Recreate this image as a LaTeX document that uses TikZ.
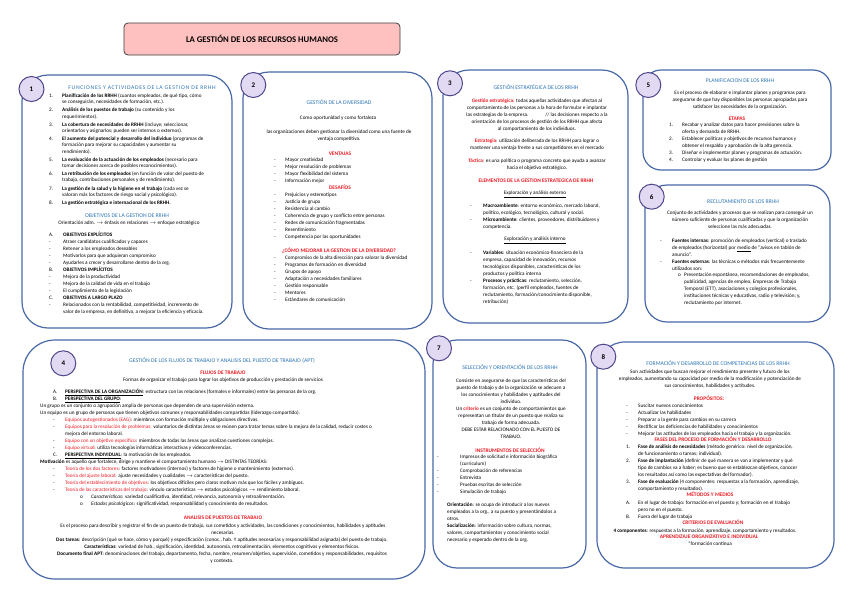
\documentclass[tikz,border=0pt]{standalone}
\usepackage{fontspec}
\setmainfont{Carlito}
\usepackage{array}
\definecolor{tblue}{RGB}{46,117,182}
\definecolor{tred}{RGB}{237,28,36}
\definecolor{bordblue}{RGB}{72,104,168}
\definecolor{circfill}{RGB}{226,218,242}
\definecolor{circdraw}{RGB}{80,70,140}
\definecolor{titlefill}{RGB}{255,192,192}
\newcommand\tsz{\fontsize{5.2}{7}\selectfont}
\newcommand\tszb{\fontsize{5.2}{6.2}\selectfont}
\newcommand\hsz{\fontsize{5.7}{7}\selectfont}
\newcommand\mylist[2]{\begin{tabular}[t]{@{}p{#1}@{}l@{}}#2\end{tabular}}
\newcommand\mycenter[1]{\begin{tabular}[t]{@{}c@{}}#1\end{tabular}}
\newcommand\myleft[1]{\begin{tabular}[t]{@{}l@{}}#1\end{tabular}}
\newcommand\redt[1]{\textcolor{tred}{#1}}
\newcommand\redb[1]{\textcolor{tred}{\textbf{#1}}}
\begin{document}
\begin{tikzpicture}[x=1pt,y=-1pt,
  box/.style={draw=bordblue, line width=1.2pt, rounded corners=#1},
  numc/.style={circle, draw=circdraw, fill=circfill, line width=1pt, minimum size=25pt, inner sep=0pt, font=\fontsize{7}{8}\selectfont\bfseries},
  tx/.style={inner sep=0pt, anchor=base, font=\tsz},
  txl/.style={inner sep=0pt, anchor=base west, font=\tsz},
  hd/.style={inner sep=0pt, anchor=base, font=\hsz, text=tblue},
  rh/.style={inner sep=0pt, anchor=base, font=\fontsize{5.4}{7}\selectfont\bfseries, text=tred}]
\useasboundingbox (0,0) rectangle (848,600);
\fill[white] (0,0) rectangle (848,600);

% title
\node[draw=black!75, fill=titlefill, rounded corners=4pt, minimum width=276pt, minimum height=32pt, line width=0.8pt, font=\fontsize{8.7}{10}\selectfont\bfseries] (title) at (262,39) {LA GESTIÓN DE LOS RECURSOS HUMANOS};

% panels
\draw[box=26pt] (22,75) rectangle (232,328);
\draw[box=26pt] (243,72) rectangle (432,329);
\draw[box=26pt] (443,70) rectangle (628,323);
\draw[box=18pt] (643,70) rectangle (831,170);
\draw[box=22pt] (645,185) rectangle (830,322);
\draw[box=32pt] (23,340) rectangle (425,579);
\draw[box=24pt] (433,340) rectangle (586,568);
\draw[box=28pt] (597,342) rectangle (834,568);

% numbers
\node[numc] (c1) at (31.5,89) {1};
\node[numc] (c2) at (253.3,85) {2};
\node[numc] (c3) at (450,83.3) {3};
\node[numc] (c5) at (648.3,85) {5};
\node[numc] (c6) at (651.7,196.7) {6};
\node[numc] (c4) at (63.3,363.3) {4};
\node[numc] (c7) at (439,348.3) {7};
\node[numc] (c8) at (603.3,356.7) {8};

\begin{scope}[yshift=-1.5pt]
% ---------- box 1
\node[hd, font=\hsz\addfontfeature{LetterSpace=12}] (b1h) at (142,88) {FUNCIONES Y ACTIVIDADES DE LA GESTION DE RRHH};
\node[txl, font=\tszb] (b1l) at (49,96) {\mylist{13pt}{
1. & \textbf{Planificación de los RRHH} (cuantos empleados, de qué tipo, cómo\\
 & se conseguirán, necesidades de formación, etc.).\\[2pt]
2. & \textbf{Análisis de los puestos de trabajo} (su contenido y los\\
 & requerimientos).\\[2pt]
3. & \textbf{La cobertura de necesidades de RRHH} (incluye; seleccionar,\\
 & orientarlos y asignarlos; pueden ser internos o externos).\\[2pt]
4. & \textbf{El aumento del potencial y desarrollo del individuo} (programas de\\
 & formación para mejorar su capacidades y aumentar su\\
 & rendimiento).\\[2pt]
5. & \textbf{La evaluación de la actuación de los empleados} (necesario para\\
 & tomar decisiones acerca de posibles reconocimientos).\\[2pt]
6. & \textbf{La retribución de los empleados} (en función de valor del puesto de\\
 & trabajo, contribuciones personales y de rendimiento).\\[2pt]
7. & \textbf{La gestión de la salud y la higiene en el trabajo} (cada vez se\\
 & valoran más los factores de riesgo social y psicológico).\\[2pt]
8. & \textbf{La gestión estratégica e internacional de los RRHH.}}};
\node[hd] (b1o) at (127,215.7) {OBJETIVOS DE LA GESTION DE RRHH};
\node[tx] (b1or) at (129,223) {Orientación adm. $\rightarrow$ énfasis en relaciones $\rightarrow$ enfoque estratégico};
\node[txl] (b1ob) at (49,235) {\mylist{14pt}{
A. & \textbf{OBJETIVOS EXPLÍCITOS}\\
- & Atraer candidatos cualificados y capaces\\
- & Retener a los empleados deseables\\
- & Motivarlos para que adquieran compromiso\\
- & Ayudarles a crecer y desarrollarse dentro de la org.\\
B. & \textbf{OBJETIVOS IMPLÍCITOS}\\
- & Mejora de la productividad\\
- & Mejora de la calidad de vida en el trabajo\\
- & El cumplimiento de la legislación\\
C. & \textbf{OBJETIVOS A LARGO PLAZO}\\
- & Relacionados con la rentabilidad, competitividad, incremento de\\
 & valor de la empresa, en definitiva, a mejorar la eficiencia y eficacia.}};

% ---------- box 2
\node[hd] (b2h) at (339,103) {GESTIÓN DE LA DIVERSIDAD};
\node[tx] (b2a) at (338,118) {Como oportunidad y como fortaleza};
\node[tx] (b2b) at (339,132) {\mycenter{las organizaciones deben gestionar la diversidad como una fuente de\\ ventaja competitiva.}};
\node[rh] (b2v) at (340,154) {VENTAJAS};
\node[txl] (b2vl) at (274,160) {\mylist{11pt}{
- & Mayor creatividad\\
- & Mejor resolución de problemas\\
- & Mayor flexibilidad del sistema\\
- & Información mejor}};
\node[rh] (b2d) at (340,188) {DESAFÍOS};
\node[txl] (b2dl) at (274,195) {\mylist{11pt}{
- & Prejuicios y estereotipos\\
- & Justicia de grupo\\
- & Resistencia al cambio\\
- & Coherencia de grupo y conflicto entre personas\\
- & Redes de comunicación fragmentadas\\
- & Resentimiento\\
- & Competencia por las oportunidades}};
\node[rh] (b2m) at (339,251) {¿CÓMO MEJORAR LA GESTION DE LA DIVERSIDAD?};
\node[txl] (b2ml) at (274,258) {\mylist{11pt}{
- & Compromiso de la alta dirección para valorar la diversidad\\
- & Programas de formación en diversidad\\
- & Grupos de apoyo\\
- & Adaptación a necesidades familiares\\
- & Gestión responsable\\
- & Mentores\\
- & Estándares de comunicación}};

% ---------- box 3
\node[hd] (b3h) at (536,88) {GESTIÓN ESTRATÉGICA DE LOS RRHH};
\node[tx] (b3a) at (537,101) {\mycenter{\redb{Gestión estratégica:} todas aquellas actividades que afectan al\\
comportamiento de las personas a la hora de formular e implantar\\
las estrategias de la empresa. \hspace{14pt} // las decisiones respecto a la\\
orientación de los procesos de gestión de los RRHH que afecta\\
al comportamiento de los individuos.}};
\node[tx] (b3b) at (537,141) {\mycenter{\redb{Estrategia}: utilización deliberada de los RRHH para lograr o\\
mantener una ventaja frente a sus competidores en el mercado}};
\node[tx] (b3c) at (537,161) {\mycenter{\redb{Táctica}: es una política o programa concreto que ayuda a avanzar\\
hacia el objetivo estratégico.}};
\node[rh] (b3e) at (536,181) {ELEMENTOS DE LA GESTION ESTRATEGICA DE RRHH};
\node[tx] (b3x) at (535,193) {\underline{Exploración y análisis externo}};
\node[txl] (b3xl) at (470,206) {\mylist{13pt}{
- & \textbf{Macroambiente}: entorno económico, mercado laboral,\\
 & político, ecológico, tecnológico, cultural y social.\\
- & \textbf{Microambiente}: clientes, proveedores, distribuidores y\\
 & competencia.}};
\node[tx] (b3i) at (535,239) {\underline{Exploración y análisis interno}};
\node[txl] (b3il) at (470,253) {\mylist{13pt}{
- & \textbf{Variables}: situación económico-financiera de la\\
 & empresa, capacidad de innovación, recursos\\
 & tecnológicos disponibles, características de los\\
 & productos y política interna\\
- & \textbf{Procesos y prácticas}: reclutamiento, selección,\\
 & formación, etc. (perfil empleados, fuentes de\\
 & reclutamiento, formación/conocimiento disponible,\\
 & retribución)}};

% ---------- box 5
\node[hd] (b5h) at (740,81) {PLANIFICACION DE LOS RRHH};
\node[tx] (b5a) at (740,93) {\mycenter{Es el proceso de elaborar e implantar planes y programas para\\
asegurarse de que hay disponibles las personas apropiadas para\\
satisfacer las necesidades de la organización.}};
\node[rh] (b5e) at (737,119) {ETAPAS};
\node[txl] (b5l) at (669,125) {\mylist{13pt}{
1. & Recabar y analizar datos para hacer previsiones sobre la\\
 & oferta y demanda de RRHH.\\
2. & Establecer políticas y objetivos de recursos humanos y\\
 & obtener el respaldo y aprobación de la alta gerencia.\\
3. & Diseñar e implementar planes y programas de actuación.\\
4. & Controlar y evaluar los planes de gestión}};

% ---------- box 6
\node[hd] (b6h) at (743,202) {RECLUTAMIENTO DE LOS RRHH};
\node[tx] (b6a) at (740,213) {\mycenter{Conjunto de actividades y procesos que se realizan para conseguir un\\
número suficiente de personas cualificadas y que la organización\\
seleccione las más adecuadas.}};
\node[txl] (b6l) at (660,241) {\mylist{12pt}{
- & \textbf{Fuentes internas}: promoción de empleados (vertical) o traslado\\
 & de empleados (horizontal) por \underline{medio} de ``avisos en tablón de\\
 & anuncio''.\\
- & \textbf{Fuentes externas}: las técnicas o métodos más frecuentemente\\
 & utilizados son:}};
\node[txl] (b6s) at (678,275) {\mylist{6pt}{
o & Presentación espontánea, recomendaciones de empleados,\\
 & publicidad, agencias de empleo, Empresas de Trabajo\\
 & Temporal (ETT), asociaciones y colegios profesionales,\\
 & instituciones técnicas y educativas, radio y televisión; y,\\
 & reclutamiento por internet.}};

% ---------- box 4
\node[hd] (b4h) at (222,361) {GESTIÓN DE LOS FLUJOS DE TRABAJO Y ANALISIS DEL PUESTO DE TRABAJO (APT)};
\node[rh] (b4f) at (223,373) {FLUJOS DE TRABAJO};
\node[tx] (b4fa) at (223,379.5) {Formas de organizar el trabajo para lograr los objetivos de producción y prestación de servicios};
\node[txl] (b4ab) at (53,392) {\mylist{12pt}{
A. & \textbf{\underline{PERSPECTIVA DE LA ORGANIZACIÓN}}: estructura con las relaciones (formales e informales) entre las personas de la org.\\
B. & \textbf{\underline{PERSPECTIVA DEL GRUPO}}:}};
\node[txl] (b4g) at (40,406) {\myleft{Un grupo es un conjunto o agrupación amplia de personas que dependen de una supervisión externa.\\
Un equipo es un grupo de personas que tienen objetivos comunes y responsabilidades compartidas (liderazgo compartido).}};
\node[txl] (b4gl) at (53,420) {\mylist{12pt}{
- & \redt{Equipos autogestionados (EAG)}: miembros con formación múltiple y obligaciones directivas.\\
- & \redt{Equipos para la resolución de problemas:} voluntarios de distintas áreas se reúnen para tratar temas sobre la mejora de la calidad, reducir costes o\\
 & mejora del entorno laboral.\\
- & \redt{Equipo con un objetivo específico}: miembros de todas las áreas que analizan cuestiones complejas.\\
- & \redt{Equipo virtual}: utiliza tecnologías informáticas interactivas y videoconferencias.\\
C. & \textbf{\underline{PERSPECTIVA INDIVIDUAL}}: la motivación de los empleados.}};
\node[txl] (b4m) at (40,462) {\textbf{Motivación} es aquello que fortalece, dirige y mantiene el comportamiento humano $\rightarrow$ DISTINTAS TEORÍAS:};
\node[txl] (b4ml) at (53,469) {\mylist{12pt}{
- & \redt{Teoría de los dos factores}: factores motivadores (internos) y factores de higiene o mantenimiento (externos).\\
- & \redt{Teoría del ajuste laboral}: ajuste necesidades y cualidades $\rightarrow$ características del puesto.\\
- & \redt{Teoría del establecimiento de objetivos}: los objetivos difíciles pero claros motivan más que los fáciles y ambiguos.\\
- & \redt{Teoría de las características del trabajo}: vínculo características $\rightarrow$ estados psicológicos $\rightarrow$ rendimiento laboral.}};
\node[txl] (b4ms) at (80,497) {\mylist{11pt}{
o & \textit{Características}: variedad cualificativa, identidad, relevancia, autonomía y retroalimentación.\\
o & \textit{Estados psicológicos}: significatividad, responsabilidad y conocimiento de resultados.}};
\node[rh] (b4p) at (223,518) {ANALISIS DE PUESTOS DE TRABAJO};
\node[tx] (b4pa) at (223,526) {\mycenter{Es el proceso para describir y registrar el fin de un puesto de trabajo, sus cometidos y actividades, las condiciones y conocimientos, habilidades y aptitudes\\ necesarias.}};
\node[tx] (b4pb) at (222,540) {\textbf{Dos tareas}: descripción (qué se hace, cómo y porqué) y especificación (conoc., hab. Y aptitudes necesarias y responsabilidad asignada) del puesto de trabajo.};
\node[tx] (b4pc) at (222,547) {\textbf{Características}: variedad de hab., significación, identidad, autonomía, retroalimentación, elementos cognitivos y elementos físicos.};
\node[tx] (b4pd) at (222,554) {\mycenter{\textbf{Documento final APT}: denominaciones del trabajo, departamento, fecha, nombre, resumen/objetivo, supervisión, cometidos y responsabilidades, requisitos\\ y contexto.}};

% ---------- box 7
\node[hd] (b7h) at (510,368) {SELECCIÓN Y ORIENTACIÓN DE LOS RRHH};
\node[tx] (b7a) at (511,381) {\mycenter{Consiste en asegurarse de que las características del\\
puesto de trabajo y de la organización se adecuen a\\
los conocimientos y habilidades y aptitudes del\\
individuo.\\
Un \redb{criterio} es un conjunto de comportamientos que\\
representan un titular de un puesto que realiza su\\
trabajo de forma adecuada.\\
DEBE ESTAR RELACIONADO CON EL PUESTO DE\\
TRABAJO.}};
\node[rh] (b7i) at (510,451) {INSTRUMENTOS DE SELECCIÓN};
\node[txl] (b7il) at (437,457) {\mylist{23pt}{
- & Impresos de solicitud e información biográfica\\
 & (curriculum)\\
- & Comprobación de referencias\\
- & Entrevista\\
- & Pruebas escritas de selección\\
- & Simulación de trabajo}};
\node[txl] (b7o) at (447,505) {\myleft{\textbf{Orientación}: se ocupa de introducir a los nuevos\\
empleados a la org., a su puesto y presentándolos a\\
otros.\\
\textbf{Socialización}: información sobre cultura, normas,\\
valores, comportamientos y conocimiento social\\
necesario y esperado dentro de la org.}};

% ---------- box 8
\node[hd] (b8h) at (718,364) {FORMACIÓN Y DESARROLLO DE COMPETENCIAS DE LOS RRHH};
\node[tx] (b8a) at (710,372) {\mycenter{Son actividades que buscan mejorar el rendimiento presente y futuro de los\\
empleados, aumentando su capacidad por medio de la modificación y potenciación de\\
sus conocimientos, habilidades y actitudes.}};
\node[rh] (b8p) at (709,399) {PROPÓSITOS:};
\node[txl] (b8pl) at (626,406) {\mylist{12pt}{
- & Suscitar nuevos conocimientos\\
- & Actualizar las habilidades\\
- & Preparar a la gente para cambios en su carrera\\
- & Rectificar las deficiencias de habilidades y conocimientos\\
- & Mejorar las actitudes de los empleados hacia el trabajo y la organización.}};
\node[rh] (b8f) at (713,440) {FASES DEL PROCESO DE FORMACIÓN Y DESARROLLO};
\node[txl] (b8fl) at (626,447) {\mylist{12pt}{
1. & \textbf{Fase de análisis de necesidades} (método genérico: nivel de organización,\\
 & de funcionamiento o tareas; individual).\\
2. & \textbf{Fase de implantación} (definir de qué manera se van a implementar y qué\\
 & tipo de cambios va a haber; es bueno que se establezcan objetivos, conocer\\
 & los resultados así como las expectativas del formador).\\
3. & \textbf{Fase de evaluación} (4 componentes: respuestas a la formación, aprendizaje,\\
 & comportamiento y resultados).}};
\node[rh] (b8m) at (710,495) {MÉTODOS Y MEDIOS};
\node[txl] (b8ml) at (626,503) {\mylist{12pt}{
A. & En el lugar de trabajo: formación en el puesto y; formación en el trabajo\\
 & pero no en el puesto.\\
B. & Fuera del lugar de trabajo}};
\node[rh] (b8c) at (713,523) {CRITERIOS DE EVALUACIÓN};
\node[tx] (b8ca) at (705,531) {\textbf{4 componentes}: respuestas a la formación, aprendizaje, comportamiento y resultados.};
\node[rh] (b8o) at (709,537) {APRENDIZAJE ORGANIZATIVO E INDIVIDUAL};
\node[tx] (b8oa) at (710,544) {*formación continua};
\end{scope}
\end{tikzpicture}
\end{document}
